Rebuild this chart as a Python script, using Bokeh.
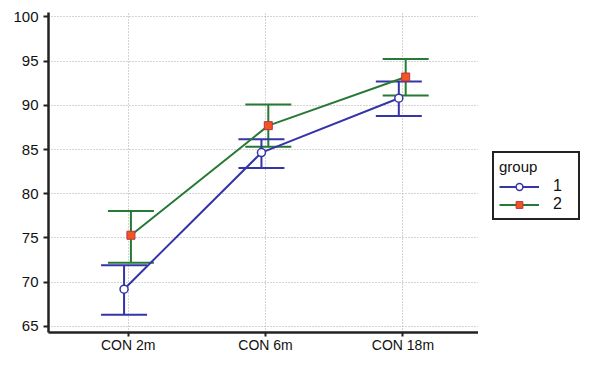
from bokeh.plotting import figure
from bokeh.layouts import row
from bokeh.models import (ColumnDataSource, Range1d, FixedTicker, Whisker, TeeHead,
                          Legend, LegendItem)
from bokeh.embed import file_html
from bokeh.resources import INLINE

categories = ["CON 2m", "CON 6m", "CON 18m"]
g1_mean = [69.2, 84.65, 90.8]
g1_upper = [71.9, 86.15, 92.7]
g1_lower = [66.3, 82.9, 88.8]
g2_mean = [75.3, 87.7, 93.2]
g2_upper = [78.05, 90.1, 95.25]
g2_lower = [72.2, 85.3, 91.1]
y_ticks = [65, 70, 75, 80, 85, 90, 95, 100]
group_labels = ["1", "2"]

BLUE = "#3535a8"
GREEN = "#267a35"
ORANGE = "#f2561f"
SQ_EDGE = "#c0304a"

idx = list(range(len(categories)))
src1 = ColumnDataSource(dict(x=[i - 0.03 for i in idx], y=g1_mean, upper=g1_upper, lower=g1_lower))
src2 = ColumnDataSource(dict(x=[i + 0.02 for i in idx], y=g2_mean, upper=g2_upper, lower=g2_lower))

p = figure(width=478, height=355, output_backend="svg", toolbar_location=None,
           x_range=Range1d(-0.58, 2.55), y_range=Range1d(64.3, 100.5),
           min_border_left=48, min_border_top=12, min_border_bottom=0, min_border_right=0)
p.outline_line_color = None
p.background_fill_color = "white"

for ax in (p.xaxis[0], p.yaxis[0]):
    ax.axis_line_width = 2.5
    ax.axis_line_color = "#222222"
    ax.major_tick_line_width = 2
    ax.major_tick_line_color = "#222222"
    ax.major_tick_in = 0
    ax.minor_tick_line_color = None
    ax.major_label_text_font = "Liberation Sans"
    ax.major_label_text_color = "#111111"

p.xaxis.ticker = FixedTicker(ticks=idx)
p.xaxis.major_label_overrides = {i: c for i, c in zip(idx, categories)}
p.xaxis.major_label_standoff = 0
p.xaxis.major_tick_out = 4
p.xaxis.major_label_text_font_size = "14px"
p.yaxis.ticker = FixedTicker(ticks=y_ticks)
p.yaxis.major_label_standoff = 5
p.yaxis.major_tick_out = 5
p.yaxis.major_label_text_font_size = "15px"

p.xgrid.ticker = FixedTicker(ticks=idx)
for g in (p.xgrid[0], p.ygrid[0]):
    g.grid_line_color = "#a8a8a8"
    g.grid_line_dash = "1 2"
    g.grid_line_width = 1

# group 2
w2 = Whisker(base="x", upper="upper", lower="lower", source=src2, dimension="height",
             line_color=GREEN, line_width=2,
             upper_head=TeeHead(size=46, line_color=GREEN, line_width=2),
             lower_head=TeeHead(size=46, line_color=GREEN, line_width=2))
p.add_layout(w2)
p.line("x", "y", source=src2, line_color=GREEN, line_width=2)

# group 1
w1 = Whisker(base="x", upper="upper", lower="lower", source=src1, dimension="height",
             line_color=BLUE, line_width=2,
             upper_head=TeeHead(size=46, line_color=BLUE, line_width=2),
             lower_head=TeeHead(size=46, line_color=BLUE, line_width=2))
p.add_layout(w1)
p.line("x", "y", source=src1, line_color=BLUE, line_width=2)
p.scatter("x", "y", source=src1, marker="circle", size=8, fill_color="white",
          line_color=BLUE, line_width=1.5)
p.scatter("x", "y", source=src2, marker="square", size=8, fill_color=ORANGE,
          line_color=SQ_EDGE, line_width=1)

# legend panel (separate figure so that it sits beside the plot frame)
lf = figure(width=110, height=355, output_backend="svg", toolbar_location=None,
            x_axis_type=None, y_axis_type=None, x_range=Range1d(0, 1), y_range=Range1d(0, 1),
            min_border=0)
lf.outline_line_color = None
lf.xgrid.visible = False
lf.ygrid.visible = False

def hidden():
    # a single off-range point, only so that the legend swatch is drawn
    return ColumnDataSource(dict(x=[-5], y=[-5]))

ll1 = lf.line("x", "y", source=hidden(), line_color=BLUE, line_width=2)
ls1 = lf.scatter("x", "y", source=hidden(), marker="circle", size=8,
                 fill_color="white", line_color=BLUE, line_width=1.5)
ll2 = lf.line("x", "y", source=hidden(), line_color=GREEN, line_width=2)
ls2 = lf.scatter("x", "y", source=hidden(), marker="square", size=8,
                 fill_color=ORANGE, line_color=SQ_EDGE, line_width=1)

legend = Legend(items=[LegendItem(label=group_labels[0], renderers=[ll1, ls1]),
                       LegendItem(label=group_labels[1], renderers=[ll2, ls2])],
                title="group", location=(14, 112),
                border_line_color="#222222", border_line_width=2, border_line_alpha=1,
                title_text_font="Liberation Sans", title_text_font_size="15px",
                title_text_font_style="normal", title_text_color="#111111",
                title_standoff=2,
                label_text_font="Liberation Sans", label_text_font_size="16px",
                label_text_color="#111111",
                glyph_width=40, glyph_height=17, label_standoff=14,
                padding=5, spacing=0, margin=0)
lf.add_layout(legend)

layout = row(p, lf, spacing=0)
open("out.html", "w").write(file_html(layout, INLINE))
